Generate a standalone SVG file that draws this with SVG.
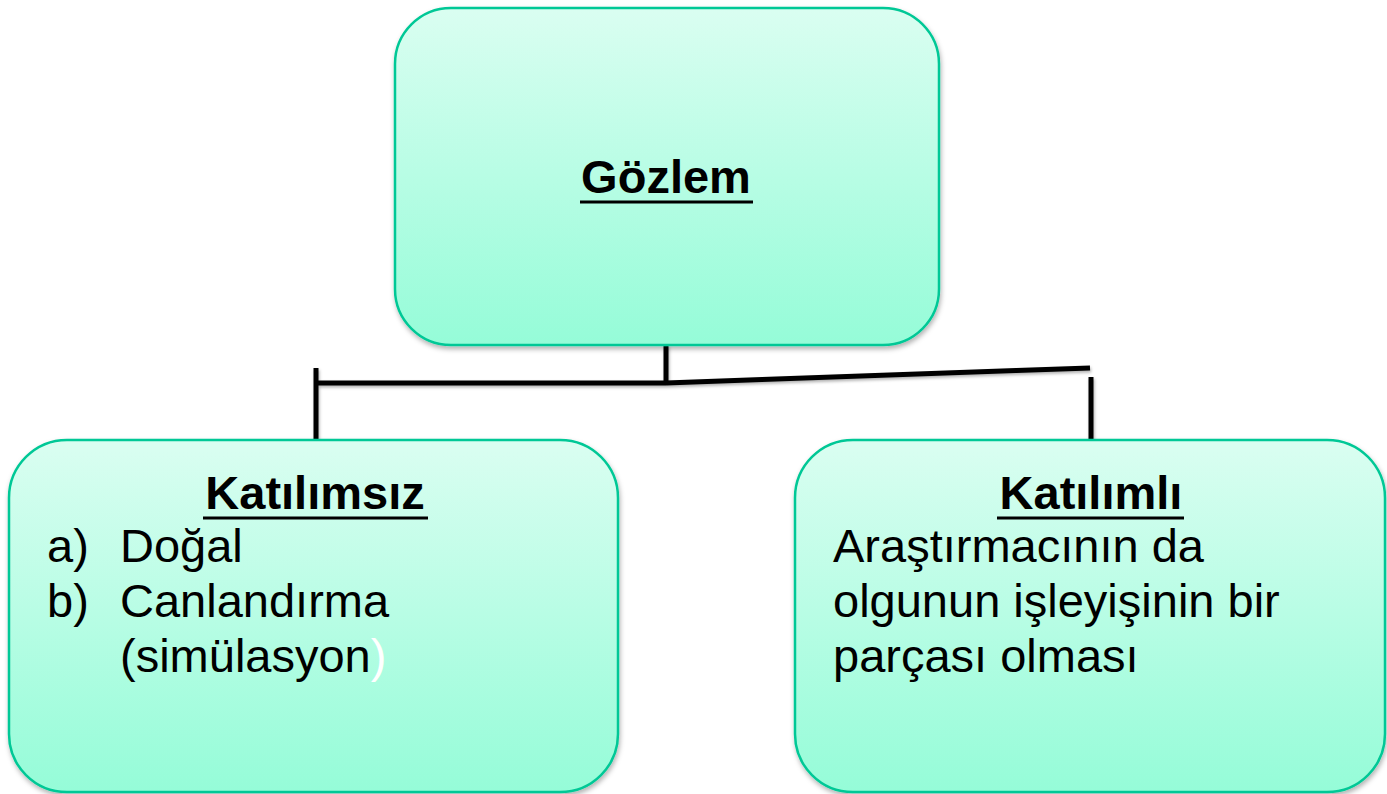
<svg xmlns="http://www.w3.org/2000/svg" width="1387" height="794" viewBox="0 0 1387 794">
<defs>
<linearGradient id="g" x1="0" y1="0" x2="0" y2="1">
<stop offset="0" stop-color="#dafef1"/>
<stop offset="1" stop-color="#95fcd8"/>
</linearGradient>
<filter id="sh" x="-5%" y="-5%" width="110%" height="115%">
<feDropShadow dx="1" dy="3" stdDeviation="2.5" flood-color="#000" flood-opacity="0.3"/>
</filter>
<filter id="lsh" filterUnits="userSpaceOnUse" x="290" y="330" width="830" height="130">
<feDropShadow dx="1" dy="2" stdDeviation="1.5" flood-color="#000" flood-opacity="0.3"/>
</filter>
</defs>
<style>
.box{fill:url(#g);stroke:#00c896;stroke-width:2.5;filter:url(#sh)}
.ln{stroke:#000;stroke-width:5;fill:none}
.ul{stroke:#000;stroke-width:3}
.t{font-family:"Liberation Sans",Arial,sans-serif;font-size:47px;fill:#000}
.h{font-weight:bold;text-anchor:middle}
</style>
<rect width="1387" height="794" fill="#fff"/>
<g id="connectors" filter="url(#lsh)">
<path class="ln" d="M666 345V385"/>
<path class="ln" d="M314 383H666"/>
<path class="ln" d="M666 383L1090 368"/>
<path class="ln" d="M316 368V440"/>
<path class="ln" d="M1091 377V440"/>
</g>
<g id="gozlem">
<rect class="box" x="395" y="8" width="544" height="337" rx="56" ry="56"/>
<text class="t h" x="666" y="193">Gözlem</text>
<line class="ul" x1="580" y1="202" x2="753" y2="202"/>
</g>
<g id="katilimsiz">
<rect class="box" x="9" y="440" width="609" height="352" rx="58" ry="58"/>
<text class="t h" x="315" y="509">Katılımsız</text>
<line class="ul" x1="203" y1="518" x2="428" y2="518"/>
<text class="t" x="47" y="562">a)</text>
<text class="t" x="120" y="562">Doğal</text>
<text class="t" x="47" y="617">b)</text>
<text class="t" x="120" y="617">Canlandırma</text>
<text class="t" x="120" y="672">(simülasyon<tspan fill="#fff">)</tspan></text>
</g>
<g id="katilimli">
<rect class="box" x="795" y="440" width="590" height="352" rx="58" ry="58"/>
<text class="t h" x="1091" y="509">Katılımlı</text>
<line class="ul" x1="997" y1="518" x2="1184" y2="518"/>
<text class="t" x="833" y="562">Araştırmacının da</text>
<text class="t" x="833" y="617">olgunun işleyişinin bir</text>
<text class="t" x="833" y="672">parçası olması</text>
</g>
</svg>
